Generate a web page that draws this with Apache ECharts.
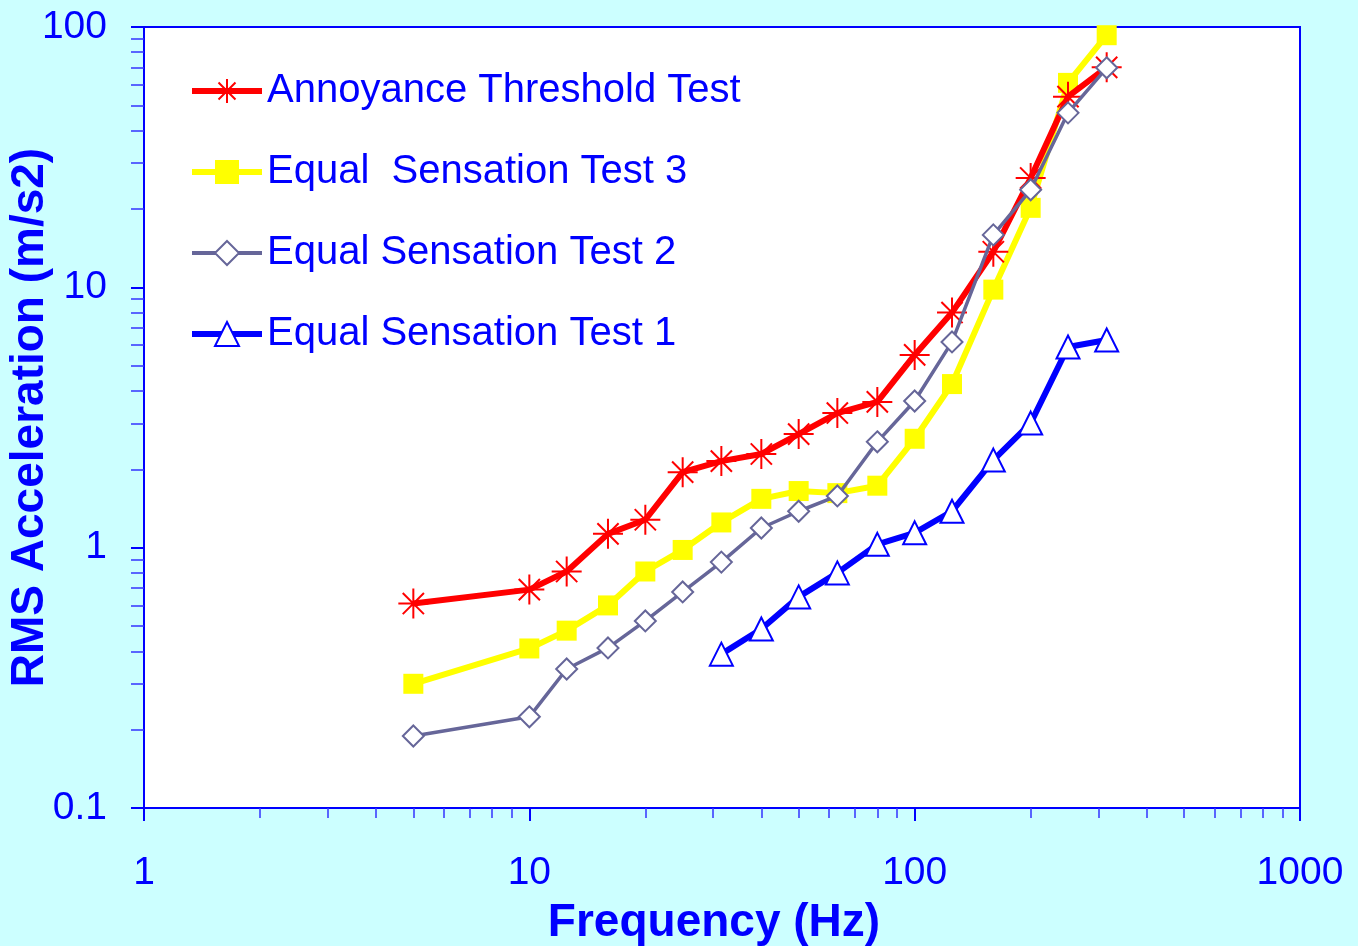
<!DOCTYPE html>
<html><head><meta charset="utf-8">
<script src="https://cdn.jsdelivr.net/npm/echarts@6/dist/echarts.min.js"></script>
<style>html,body{margin:0;padding:0;background:#CCFFFF;}#c{width:1358px;height:946px;}</style>
</head><body><div id="c"></div>
<script>
var freqs = [5, 10, 12.5, 16, 20, 25, 31.5, 40, 50, 63, 80, 100, 125, 160, 200, 250, 315];
var annoyance = [0.61, 0.69, 0.81, 1.13, 1.28, 1.95, 2.15, 2.29, 2.73, 3.29, 3.63, 5.5, 8.0, 13.7, 26.3, 54, 70];
var equal3 = [0.30, 0.41, 0.48, 0.60, 0.81, 0.98, 1.25, 1.54, 1.65, 1.62, 1.73, 2.62, 4.25, 9.8, 20.2, 61, 93];
var equal2 = [0.189, 0.224, 0.342, 0.412, 0.523, 0.676, 0.88, 1.19, 1.38, 1.58, 2.55, 3.66, 6.17, 15.9, 23.7, 46.8, 69.7];
var freqs1 = [31.5, 40, 50, 63, 80, 100, 125, 160, 200, 250, 315];
var equal1 = [0.39, 0.487, 0.647, 0.80, 1.03, 1.14, 1.38, 2.17, 3.01, 5.9, 6.28];
var xMinor = [2,3,4,5,6,7,8,9,20,30,40,50,60,70,80,90,200,300,400,500,600,700,800,900];
var yMinor = [0.2,0.3,0.4,0.5,0.6,0.7,0.8,0.9,2,3,4,5,6,7,8,9,20,30,40,50,60,70,80,90];
var seriesNames = ['Annoyance Threshold Test', 'Equal  Sensation Test 3', 'Equal Sensation Test 2', 'Equal Sensation Test 1'];

function pairs(xs, ys){ return xs.map(function(x,i){ return [x, ys[i]]; }); }
function fmt(v){ return String(Math.round(v*1000)/1000); }
var BLUE = '#0000FF';
var FONT = 'Liberation Sans, Arial, sans-serif';
var star = 'path://M0,-10L0,10M-10,0L10,0M-7.07,-7.07L7.07,7.07M-7.07,7.07L7.07,-7.07';

var chart = echarts.init(document.getElementById('c'));
chart.setOption({
  backgroundColor: '#CCFFFF',
  animation: false,
  grid: {left: 144, top: 27, right: 58, bottom: 138, outerBoundsMode: 'none', containLabel: false,
         show: true, backgroundColor: '#FFFFFF', borderColor: BLUE, borderWidth: 2},
  legend: {
    orient: 'vertical', left: 184, top: 66, itemWidth: 70, itemHeight: 30, itemGap: 41,
    textStyle: {color: BLUE, fontSize: 40, fontFamily: FONT, padding: [0,0,0,0]},
    data: [
      {name: seriesNames[0], lineStyle: {width: 6}},
      {name: seriesNames[1], lineStyle: {width: 6}},
      {name: seriesNames[2], lineStyle: {width: 4}},
      {name: seriesNames[3], lineStyle: {width: 6}}
    ]
  },
  xAxis: [{
    type: 'log', logBase: 10, min: 1, max: 1000, gridIndex: 0,
    name: 'Frequency (Hz)', nameLocation: 'middle', nameGap: 92, nameMoveOverlap: false,
    nameTextStyle: {color: BLUE, fontSize: 46, fontWeight: 'bold', fontFamily: FONT, padding: [0, 16, 0, 0]},
    axisLine: {show: true, lineStyle: {color: BLUE, width: 2}},
    axisTick: {show: true, length: 13, lineStyle: {color: BLUE, width: 2}},
    axisLabel: {color: BLUE, fontSize: 39, fontFamily: FONT, margin: 46, formatter: fmt},
    splitLine: {show: false}, minorTick: {show: false}, minorSplitLine: {show: false}
  }, {
    type: 'log', logBase: 10, min: 1, max: 1000, gridIndex: 0, position: 'bottom',
    axisLine: {show: false},
    axisTick: {show: true, length: 10, customValues: xMinor, lineStyle: {color: '#3333FF', width: 1.5}},
    axisLabel: {show: false}, splitLine: {show: false}
  }],
  yAxis: [{
    type: 'log', logBase: 10, min: 0.1, max: 100, gridIndex: 0,
    name: 'RMS Acceleration (m/s2)', nameLocation: 'middle', nameGap: 91, nameMoveOverlap: false,
    nameTextStyle: {color: BLUE, fontSize: 46, fontWeight: 'bold', fontFamily: FONT},
    axisLine: {show: true, lineStyle: {color: BLUE, width: 2}},
    axisTick: {show: true, length: 13, lineStyle: {color: BLUE, width: 2}},
    axisLabel: {color: BLUE, fontSize: 39, fontFamily: FONT, margin: 37, formatter: fmt},
    splitLine: {show: false}, minorTick: {show: false}, minorSplitLine: {show: false}
  }, {
    type: 'log', logBase: 10, min: 0.1, max: 100, gridIndex: 0, position: 'left',
    axisLine: {show: false},
    axisTick: {show: true, length: 13, customValues: yMinor, lineStyle: {color: '#3333FF', width: 1.5}},
    axisLabel: {show: false}, splitLine: {show: false}
  }],
  series: [
    {name: seriesNames[0], type: 'line', data: pairs(freqs, annoyance), z: 4,
     lineStyle: {color: '#FF0000', width: 6}, symbol: star, symbolSize: 30,
     itemStyle: {color: 'none', borderColor: '#FF0000', borderWidth: 2}},
    {name: seriesNames[1], type: 'line', data: pairs(freqs, equal3), z: 3,
     lineStyle: {color: '#FFFF00', width: 6}, symbol: 'rect', symbolSize: 20,
     itemStyle: {color: '#FFFF00', borderWidth: 0}},
    {name: seriesNames[2], type: 'line', data: pairs(freqs, equal2), z: 5,
     lineStyle: {color: '#666699', width: 3.5}, symbol: 'emptyDiamond', symbolSize: 21,
     itemStyle: {color: '#666699', borderColor: '#666699', borderWidth: 2}},
    {name: seriesNames[3], type: 'line', data: pairs(freqs1, equal1), z: 6,
     lineStyle: {color: '#0000FF', width: 6}, symbol: 'emptyTriangle', symbolSize: 23,
     itemStyle: {color: '#0000FF', borderColor: '#0000FF', borderWidth: 2}}
  ]
});
</script></body></html>
